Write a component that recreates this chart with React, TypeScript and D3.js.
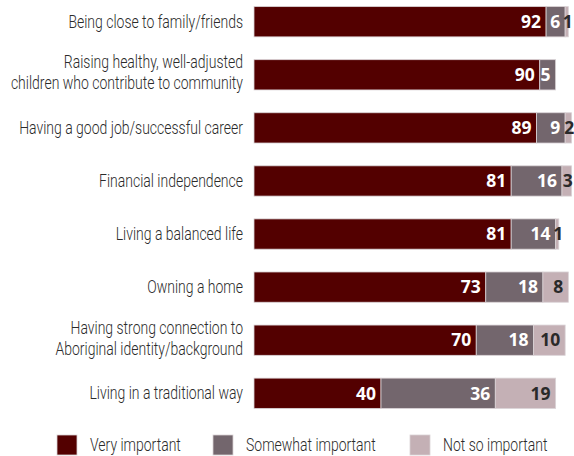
import React from "react";
import * as d3 from "d3";

const categories = [
  ["Being close to family/friends"],
  ["Raising healthy, well-adjusted", "children who contribute to community"],
  ["Having a good job/successful career"],
  ["Financial independence"],
  ["Living a balanced life"],
  ["Owning a home"],
  ["Having strong connection to", "Aboriginal identity/background"],
  ["Living in a traditional way"],
];
const veryImportant = [92, 90, 89, 81, 81, 73, 70, 40];
const somewhatImportant = [6, 5, 9, 16, 14, 18, 18, 36];
const notSoImportant = [1, 0, 2, 3, 1, 8, 10, 19];
const seriesNames = ["Very important", "Somewhat important", "Not so important"];
const colors = ["#530000", "#73666d", "#c4b0b5"];

const W = 574;
const H = 456;
const labelFont = "Roboto, 'Noto Sans', sans-serif";
const numFont = "'Open Sans', sans-serif";
const SX = 0.8;
const FS = 17.5;

export default function App() {
  const x = d3.scaleLinear().domain([0, 100]).range([254, 571.5]);
  const y = d3
    .scaleBand<number>()
    .domain(d3.range(categories.length))
    .range([-4, 419])
    .paddingInner(0.43)
    .paddingOuter(0.2);
  const bh = y.bandwidth();
  const series = [veryImportant, somewhatImportant, notSoImportant];

  return (
    <svg
      width={W}
      height={H}
      style={{ position: "absolute", left: 0, top: 0, background: "#fff" }}
    >
      {categories.map((lines, i) => {
        const cy = (y(i) as number) + bh / 2;
        const lh = 21;
        const y0 = cy - ((lines.length - 1) * lh) / 2 - (lines.length > 1 ? 2 : 0);
        return (
          <g key={"l" + i} transform={`translate(243,0) scale(${SX},1)`}>
            <text
              textAnchor="end"
              fontFamily={labelFont}
              fontWeight={300}
              fontSize={FS}
              fill="#2b2b2b"
            >
              {lines.map((ln, j) => (
                <tspan key={j} x={0} y={y0 + j * lh} dy="0.35em">
                  {ln}
                </tspan>
              ))}
            </text>
          </g>
        );
      })}
      {categories.map((_, i) => {
        let acc = 0;
        const top = y(i) as number;
        return (
          <g key={"b" + i}>
            {series.map((s, k) => {
              const v = s[i];
              const x0 = x(acc);
              acc += v;
              const x1 = x(acc);
              if (v <= 0) return null;
              const small = v < 5;
              return (
                <g key={k}>
                  <rect
                    x={x0}
                    y={top}
                    width={x1 - x0}
                    height={bh}
                    fill={colors[k]}
                    stroke="#d9d2d5"
                    strokeWidth={0.8}
                  />
                  <text
                    x={small ? (x0 + x1) / 2 + 1 : x1 - 5}
                    y={top + bh / 2}
                    dy="0.36em"
                    textAnchor={small ? "middle" : "end"}
                    fontFamily={numFont}
                    fontWeight={700}
                    fontSize={17.5}
                    fill={k === 2 ? "#2a2a2a" : "#fff"}
                  >
                    {v}
                  </text>
                </g>
              );
            })}
          </g>
        );
      })}
      {seriesNames.map((n, k) => {
        const lx = [57, 213, 410][k];
        return (
          <g key={"lg" + k}>
            <rect x={lx} y={435} width={20} height={20} fill={colors[k]} stroke="#d9d2d5" strokeWidth={0.8} />
            <g transform={`translate(${lx + 33},0) scale(${SX},1)`}>
              <text x={0} y={445} dy="0.35em" fontFamily={labelFont} fontWeight={300} fontSize={FS} fill="#2b2b2b">
                {n}
              </text>
            </g>
          </g>
        );
      })}
    </svg>
  );
}
